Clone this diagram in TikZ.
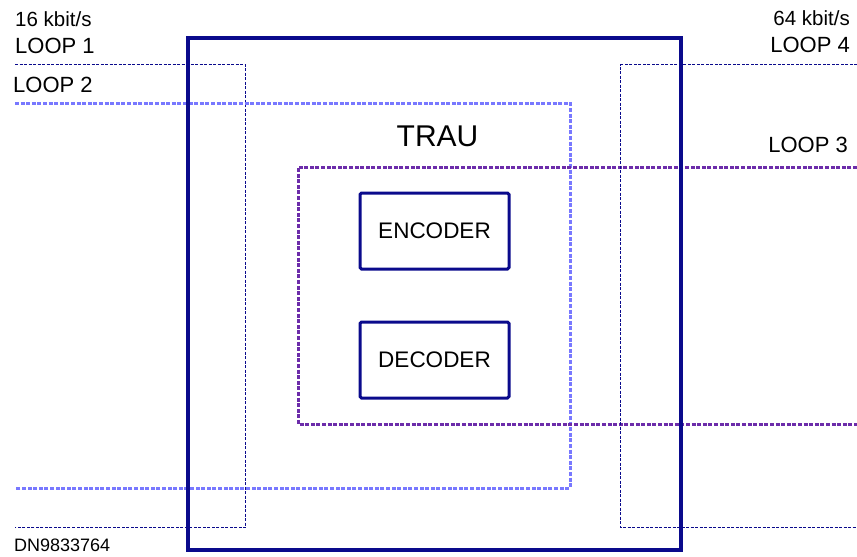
\documentclass[tikz,border=0pt]{standalone}
\usepackage{fontspec}
\setmainfont{Liberation Sans}
\definecolor{navy}{RGB}{10,10,140}
\definecolor{lightloop}{RGB}{120,120,255}
\definecolor{purpleloop}{RGB}{108,44,170}
\tikzset{
  frame/.style={draw=navy, line width=3.5pt, inner sep=0pt, outer sep=0pt},
  codec/.style={draw=navy, line width=3pt, rounded corners=1.5pt, inner sep=0pt, outer sep=0pt,
     minimum width=149pt, minimum height=76pt, font=\fontsize{22.5}{25}\selectfont},
  loopthin/.style={draw=navy, line width=1.5pt, dash pattern=on 3pt off 1.5pt},
  looplight/.style={draw=lightloop, line width=3pt, dash pattern=on 4pt off 1.6pt},
  looppurple/.style={draw=purpleloop, line width=3pt, dash pattern=on 4pt off 1.6pt},
  lbl/.style={inner sep=0pt, font=\fontsize{22}{25}\selectfont},
  rate/.style={inner sep=0pt, font=\fontsize{20.5}{23}\selectfont},
}
\begin{document}
\begin{tikzpicture}[x={(1pt,0)}, y={(0,-1pt)}]
\useasboundingbox (0,0) rectangle (857,557);
% loops
\coordinate (l1a) at (15,64.5); \coordinate (l1b) at (245.5,64.5);
\coordinate (l1c) at (245.5,527.5); \coordinate (l1d) at (15,527.5);
\draw[loopthin] (l1a) -- (l1b) -- (l1c) -- (l1d);
\coordinate (l2a) at (15,103); \coordinate (l2b) at (570,103);
\coordinate (l2c) at (570,488); \coordinate (l2d) at (15,488);
\draw[looplight] (l2a) -- (l2b) -- (l2c) -- (l2d);
\coordinate (l3a) at (857,167); \coordinate (l3b) at (298,167);
\coordinate (l3c) at (298,424); \coordinate (l3d) at (857,424);
\draw[looppurple] (l3a) -- (l3b) -- (l3c) -- (l3d);
\coordinate (l4a) at (857,64.5); \coordinate (l4b) at (620.5,64.5);
\coordinate (l4c) at (620.5,527.5); \coordinate (l4d) at (857,527.5);
\draw[loopthin] (l4a) -- (l4b) -- (l4c) -- (l4d);
% TRAU frame
\node[frame, minimum width=493pt, minimum height=512pt] (trau) at (434.5,294) {};
\node[inner sep=0pt, anchor=base, font=\fontsize{30}{34}\selectfont] (trautext) at (437.5,146) {TRAU};
% encoder / decoder
\node[codec] (enc) at (434.5,231) {ENCODER};
\node[codec] (dec) at (434.5,360) {DECODER};
% labels
\node[rate, anchor=base west] (r16) at (15,26) {16 kbit/s};
\node[lbl, anchor=base west] (loop1) at (15,53) {LOOP 1};
\node[lbl, anchor=base west] (loop2) at (13,92) {LOOP 2};
\node[rate, anchor=base east] (r64) at (850,25) {64 kbit/s};
\node[lbl, anchor=base east] (loop4) at (850,52) {LOOP 4};
\node[lbl, anchor=base east] (loop3) at (848,152) {LOOP 3};
\node[inner sep=0pt, anchor=base west, font=\fontsize{18}{21}\selectfont] (dn) at (14,551) {DN9833764};
\end{tikzpicture}
\end{document}
